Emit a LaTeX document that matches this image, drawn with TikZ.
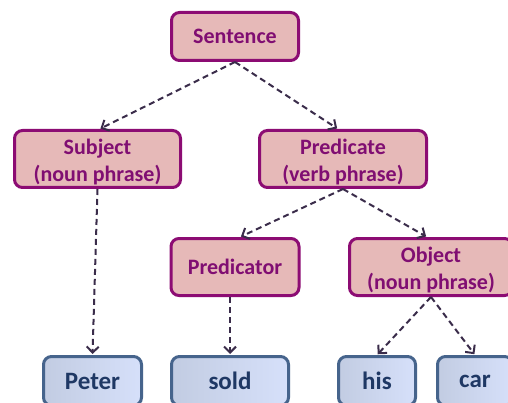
\documentclass[tikz,border=0pt]{standalone}
\usepackage{fontspec}
\setmainfont{Carlito}
\usetikzlibrary{arrows.meta}
\definecolor{pinkfill}{HTML}{E6B9B8}
\definecolor{pinkline}{HTML}{8C0C73}
\definecolor{pinktext}{HTML}{800E72}
\definecolor{blueline}{HTML}{46648C}
\definecolor{bluetext}{HTML}{1F3864}
\definecolor{blueleft}{HTML}{C2CCE2}
\definecolor{blueright}{HTML}{D6E0FA}
\definecolor{arrowcol}{HTML}{3A2C4A}
\begin{document}
\begin{tikzpicture}[x=1pt,y=-1pt,
  pinkbox/.style={draw=pinkline, line width=3pt, fill=pinkfill, rounded corners=8pt,
    text=pinktext, font=\fontsize{22}{27}\selectfont\bfseries, align=center, inner sep=0pt},
  twoline/.style={text height=48pt},
  bluebox/.style={draw=blueline, line width=3pt, left color=blueleft, right color=blueright,
    rounded corners=8pt, text=bluetext, font=\fontsize{25}{28}\selectfont\bfseries, inner sep=0pt},
  conn/.style={draw=arrowcol, line width=2pt, dash pattern=on 6pt off 4pt,
    -{Straight Barb[length=6pt,width=12pt,line width=2pt]}, shorten >=1pt}
]
\useasboundingbox (0,0) rectangle (508,403);
\clip (0,0) rectangle (508,403);
\fill[white] (0,0) rectangle (508,403);

\node[pinkbox, minimum width=127pt, minimum height=48pt] (sent) at (235,36.5) {Sentence};
\node[pinkbox, twoline, minimum width=166pt, minimum height=57pt] (subj) at (97.5,159) {Subject\\(noun phrase)};
\node[pinkbox, twoline, minimum width=167pt, minimum height=57pt] (pred) at (343,159) {Predicate\\(verb phrase)};
\node[pinkbox, minimum width=128pt, minimum height=57pt] (predr) at (235,267) {Predicator};
\node[pinkbox, twoline, minimum width=163pt, minimum height=57pt] (obj) at (431,267) {Object\\(noun phrase)};

\node[bluebox, minimum width=98pt, minimum height=49pt] (peter) at (92.5,381) {Peter};
\node[bluebox, minimum width=117pt, minimum height=49pt] (sold) at (230,381) {sold};
\node[bluebox, minimum width=77pt, minimum height=49pt] (his) at (377,381) {his};
\node[bluebox, minimum width=75pt, minimum height=49pt] (car) at (475,381) {car};

\draw[conn] (sent.south) -- ([xshift=2pt]subj.north);
\draw[conn] (sent.south) -- ([xshift=-5pt]pred.north);
\draw[conn] (subj.south) -- (peter.north);
\draw[conn] (pred.south) -- ([xshift=5pt]predr.north);
\draw[conn] (pred.south) -- ([xshift=-4pt]obj.north);
\draw[conn] ([xshift=-5pt]predr.south) -- (sold.north);
\draw[conn] (obj.south) -- (his.north);
\draw[conn] (obj.south) -- (car.north);
\end{tikzpicture}
\end{document}
